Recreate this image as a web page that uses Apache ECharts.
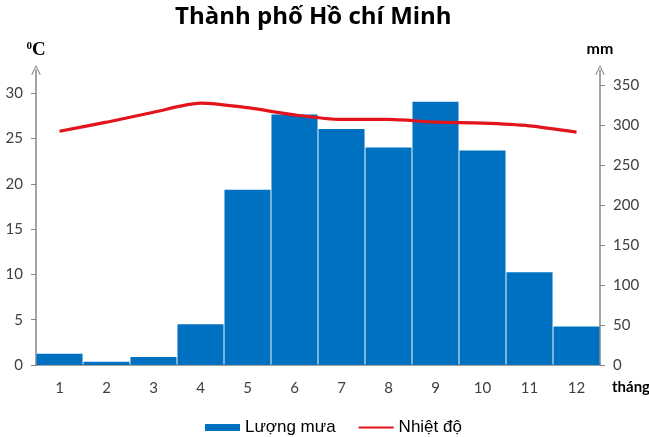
<!DOCTYPE html>
<html><head><meta charset="utf-8">
<script src="https://cdn.jsdelivr.net/npm/echarts@6/dist/echarts.min.js"></script>
<style>html,body{margin:0;padding:0;background:#fff}#c{width:649px;height:437px}</style>
</head><body><div id="c"></div>
<script>
const months = ['1','2','3','4','5','6','7','8','9','10','11','12'];
const rainfall = [14, 4, 10, 51, 219, 313, 295, 272, 329, 268, 116, 48];
const temperature = [25.8, 26.8, 27.9, 28.9, 28.4, 27.6, 27.1, 27.1, 26.8, 26.7, 26.4, 25.7];
const tempTicks = [0, 5, 10, 15, 20, 25, 30];
const rainTicks = [0, 50, 100, 150, 200, 250, 300, 350];

const chart = echarts.init(document.getElementById('c'), null, {renderer: 'canvas'});
const axisGray = '#868686';
const labelColor = '#404040';
const font = 'Lato, "Open Sans", sans-serif';
const arrowPath = 'path://M0,10 L5,0 L10,10 L9,10.6 L5,2.2 L1,10.6 Z';
chart.setOption({
  animation: false,
  title: {
    text: 'Thành phố Hồ chí Minh',
    left: 170,
    top: 0,
    textStyle: {fontFamily: '"Open Sans", sans-serif', fontSize: 24, fontWeight: 'bold', color: '#000'}
  },
  grid: {left: 36, right: 49, top: 70, bottom: 72, containLabel: false, outerBoundsMode: 'none'},
  legend: {
    left: 200, top: 414,
    itemWidth: 35, itemHeight: 7, itemGap: 22,
    textStyle: {fontFamily: '"Liberation Sans", Arial, sans-serif', fontSize: 17, color: '#000'},
    data: [
      {name: 'Lượng mưa', icon: 'rect'},
      {name: 'Nhiệt độ', itemStyle: {opacity: 0}}
    ]
  },
  xAxis: {
    type: 'category',
    data: months,
    name: 'tháng',
    nameLocation: 'end',
    nameGap: 12,
    nameTextStyle: {fontFamily: font, fontSize: 15, fontWeight: 'bold', color: '#000', verticalAlign: 'top', padding: [15, 0, 0, 0]},
    axisLine: {lineStyle: {color: axisGray, width: 1.5}},
    axisTick: {length: 6, lineStyle: {color: axisGray}},
    axisLabel: {margin: 16, fontFamily: font, fontSize: 15, color: labelColor}
  },
  yAxis: [
    {
      type: 'value', min: 0, max: 295 / 9.06,
      name: '{s|0}{c|C}',
      nameLocation: 'end', nameGap: 10,
      nameTextStyle: {rich: {
        s: {fontFamily: '"Liberation Serif", serif', fontSize: 11, fontWeight: 'bold', color: '#000', verticalAlign: 'top', padding: [0, 0, 8, 0]},
        c: {fontFamily: '"Liberation Serif", serif', fontSize: 19, fontWeight: 'bold', color: '#000'}
      }},
      axisLine: {show: true, symbol: ['none', arrowPath], symbolSize: [14, 10], symbolOffset: [0, 0], lineStyle: {color: axisGray, width: 1.5}},
      axisTick: {show: true, length: 5, customValues: tempTicks, lineStyle: {color: axisGray}},
      axisLabel: {customValues: tempTicks, margin: 13, fontFamily: font, fontSize: 15, color: labelColor},
      splitLine: {show: false}
    },
    {
      type: 'value', min: 0, max: 295 / 0.8,
      name: 'mm',
      nameLocation: 'end', nameGap: 13,
      nameTextStyle: {fontFamily: font, fontSize: 16, fontWeight: 'bold', color: '#000'},
      axisLine: {show: true, symbol: ['none', arrowPath], symbolSize: [14, 10], symbolOffset: [0, 0], lineStyle: {color: axisGray, width: 1.5}},
      axisTick: {show: true, length: 5, customValues: rainTicks, lineStyle: {color: axisGray}},
      axisLabel: {customValues: rainTicks, margin: 13, fontFamily: font, fontSize: 15, color: labelColor},
      splitLine: {show: false}
    }
  ],
  series: [
    {
      name: 'Lượng mưa', type: 'bar', yAxisIndex: 1,
      data: rainfall,
      barCategoryGap: '2%',
      itemStyle: {color: '#0070C0'}
    },
    {
      name: 'Nhiệt độ', type: 'line', yAxisIndex: 0,
      data: temperature,
      smooth: 0.25, symbol: 'none',
      lineStyle: {color: '#E3141B', width: 3.2},
      itemStyle: {color: '#E3141B'}
    }
  ]
});
</script></body></html>
